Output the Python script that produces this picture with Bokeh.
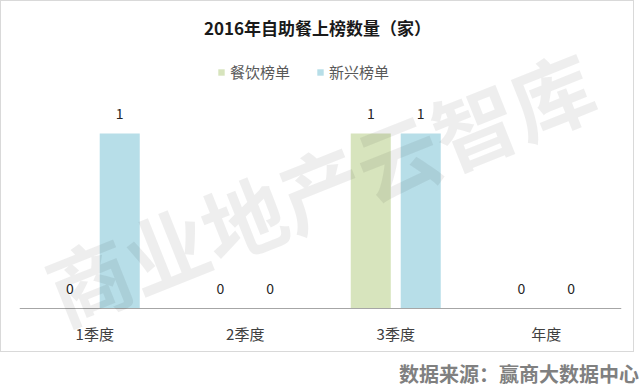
from bokeh.plotting import figure
from bokeh.models import ColumnDataSource, Label, Legend, LegendItem, Div
from bokeh.transform import dodge
from bokeh.layouts import column
from bokeh.core.properties import value
from bokeh.embed import file_html
from bokeh.resources import INLINE

categories = ["1季度", "2季度", "3季度", "年度"]
series_names = ["餐饮榜单", "新兴榜单"]
catering = [0, 0, 1, 0]
emerging = [1, 0, 1, 0]
title_text = "2016年自助餐上榜数量（家）"
source_text = "数据来源：赢商大数据中心"
watermark_text = "商业地产云智库"

FONT = "Noto Sans CJK SC"
GREEN = "#D7E4BD"
BLUE = "#B7DEE8"

src = ColumnDataSource(dict(
    cat=categories,
    catering=catering,
    emerging=emerging,
    catering_txt=[str(v) for v in catering],
    emerging_txt=[str(v) for v in emerging],
))

p = figure(x_range=categories, y_range=(-0.2571, 1.7543), width=634, height=352,
           output_backend="svg", toolbar_location=None, y_axis_location=None,
           min_border_left=18, min_border_right=14, min_border_top=0,
           min_border_bottom=0)
p.xgrid.grid_line_color = None
p.ygrid.grid_line_color = None
p.outline_line_color = None
p.styles = {"border": "1px solid #d9d9d9"}

off = 0.166
bw = 0.266
r1 = p.vbar(x=dodge("cat", -off, range=p.x_range), top="catering", width=bw,
            source=src, fill_color=GREEN, line_color=None)
r2 = p.vbar(x=dodge("cat", off, range=p.x_range), top="emerging", width=bw,
            source=src, fill_color=BLUE, line_color=None)

for col, o in (("catering", -off), ("emerging", off)):
    p.text(x=dodge("cat", o, range=p.x_range), y=col, text=col + "_txt", source=src,
           text_align="center", text_baseline="middle", y_offset=-20,
           text_font=value(FONT), text_font_size="14px", text_color="#262626")

ax = p.xaxis[0]
ax.fixed_location = 0
ax.axis_line_color = "#a6a6a6"
ax.axis_line_width = 1
ax.major_tick_line_color = None
ax.minor_tick_line_color = None
ax.major_label_text_font = FONT
ax.major_label_text_font_size = "15px"
ax.major_label_text_color = "#404040"
ax.major_label_standoff = 8

legend = Legend(items=[LegendItem(label=series_names[0], renderers=[r1]),
                       LegendItem(label=series_names[1], renderers=[r2])],
                orientation="horizontal", location=(198, 271),
                glyph_width=8, glyph_height=8, label_standoff=5, spacing=26,
                padding=0, margin=0, border_line_color=None,
                background_fill_alpha=0, label_text_font=FONT,
                label_text_font_size="15px", label_text_color="#595959",
                label_height=20)
p.add_layout(legend)

p.add_layout(Label(x=298, y=326, x_units="screen", y_units="screen", text=title_text,
                   text_align="center", text_baseline="middle", text_font=FONT,
                   text_font_size="17px", text_font_style="bold", text_color="#1a1a1a"))

p.add_layout(Label(x=300, y=168, x_units="screen", y_units="screen", text=watermark_text,
                   angle=21.8, angle_units="deg", text_align="center",
                   text_baseline="middle", text_font=FONT, text_font_size="83px",
                   text_font_style="bold", text_color="#000000", text_alpha=0.065))

footer = Div(text=source_text, width=634, height=33,
             styles={"text-align": "right", "font-size": "20px", "color": "#808080",
                     "font-family": FONT, "font-weight": "bold", "line-height": "33px"})

layout = column(p, footer, spacing=0)
open("out.html", "w").write(file_html(layout, INLINE))
